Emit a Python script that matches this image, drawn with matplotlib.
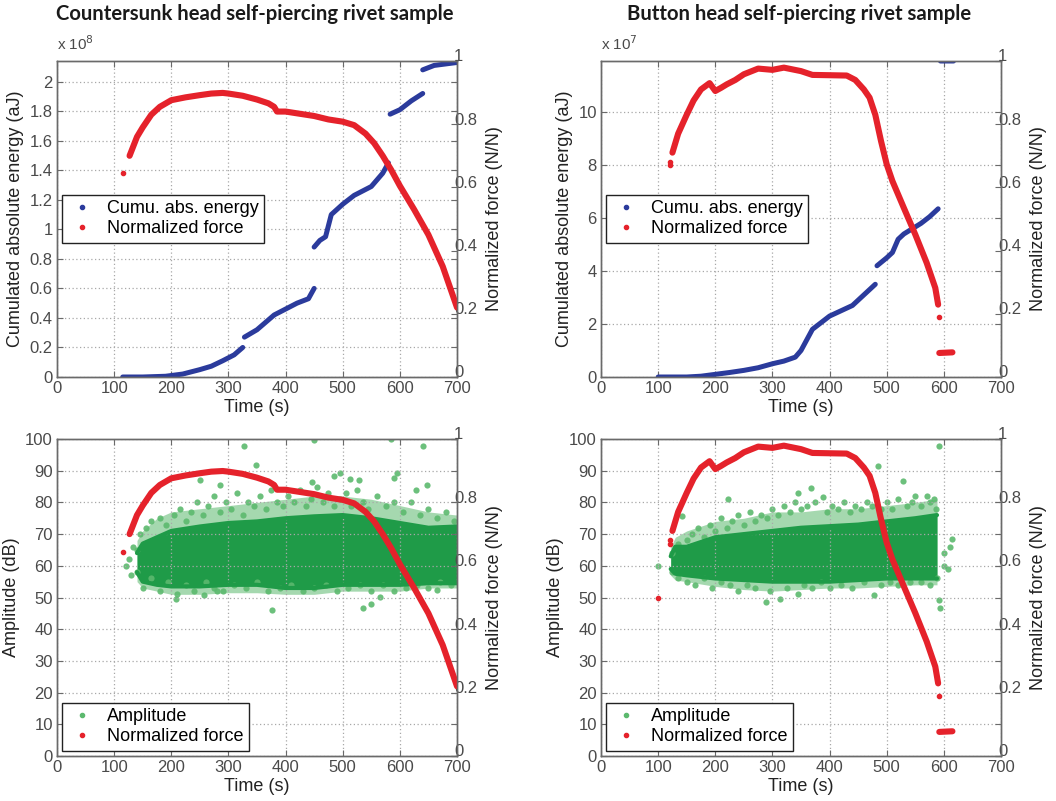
import numpy as np
import matplotlib
matplotlib.use("Agg")
import matplotlib.pyplot as plt
from matplotlib.lines import Line2D
from matplotlib.ticker import FuncFormatter
from matplotlib.transforms import ScaledTranslation

plt.rcParams.update({'font.family': ['Liberation Sans', 'DejaVu Sans']})

nan = np.nan

# ---------------- countersunk head sample ----------------
cs_energy_t = [115, 150, 190, 220, 250, 270, 290, 310, 325, nan, 328, 350, 380, 400, 420, 440, 450,
               nan, 450, 460, 470, 480, 500, 520, 550, 570, 580, nan, 583, 600, 620, 640,
               nan, 640, 660, 700]
cs_energy = [0, 0, 0.005, 0.02, 0.05, 0.073, 0.11, 0.15, 0.2, nan, 0.27, 0.32, 0.42, 0.46, 0.5, 0.53, 0.6,
             nan, 0.88, 0.925, 0.95, 1.1, 1.17, 1.23, 1.29, 1.38, 1.45, nan, 1.78, 1.81, 1.87, 1.92,
             nan, 2.08, 2.11, 2.13]  # x 1e8 aJ

cs_force_t = [127, 140, 150, 165, 180, 200, 225, 250, 270, 290, 300, 325, 350, 370, 380, 385, 400,
              425, 450, 475, 500, 520, 540, 555, 570, 585, 600, 625, 650, 675, 700]
cs_force = [0.70, 0.76, 0.79, 0.83, 0.855, 0.876, 0.885, 0.892, 0.897, 0.899, 0.897, 0.89, 0.878,
            0.866, 0.855, 0.840, 0.840, 0.833, 0.826, 0.815, 0.808, 0.797, 0.77, 0.74, 0.70, 0.655,
            0.605, 0.53, 0.45, 0.35, 0.22]
cs_force_pts_t = [115]
cs_force_pts = [0.645]

# amplitude cloud: dense core envelope, looser outer envelope, and single dots
cs_band_t = [140, 150, 175, 200, 250, 300, 350, 400, 450, 500, 550, 600, 650, 700]
cs_band_lo = [58, 55, 54, 53.5, 53.5, 54, 54, 53, 53, 54, 54, 54, 54.5, 54.5]
cs_band_hi = [64, 67, 69, 71, 72.4, 73.5, 74, 75, 75.6, 76, 75, 73.5, 72, 72.4]
cs_outer_lo = [55, 53, 52, 51, 51, 51.5, 51.5, 51, 51, 52, 52, 52, 53, 53]
cs_outer_hi = [68, 71, 75, 77, 78, 79, 80, 81, 82, 82, 81, 79, 77, 76]
cs_amp_t = [140, 145, 155, 165, 180, 190, 205, 215, 225, 235, 245, 255, 265, 275, 285, 295, 305, 315,
            325, 335, 345, 355, 365, 375, 385, 395, 405, 415, 425, 435, 445, 455, 465, 475, 485, 495,
            505, 515, 525, 535, 545, 560, 575, 590, 605, 620, 635, 650, 665, 680, 695,
            140, 150, 165, 180, 195, 210, 225, 240, 260, 275, 290, 310, 330, 350, 370, 390, 410, 430,
            450, 470, 490, 510, 530, 550, 570, 590, 610, 630, 650, 670, 690,
            327, 348, 640, 449, 584, 376, 535, 550, 257, 208, 280, 484, 496, 528, 589, 595, 513, 250,
            285, 446, 628, 648, 130, 126, 665, 566, 120, 133]
cs_amp = [65, 70, 72, 74, 75, 73, 76, 78, 74, 77, 80, 76, 79, 82, 77, 80, 78, 83,
          76, 80, 79, 82, 78, 84, 80, 79, 82, 80, 84, 79, 81, 85, 80, 83, 79, 81,
          83, 79, 84, 80, 78, 82, 79, 80, 77, 80, 76, 78, 75, 77, 74,
          58, 53, 56, 52, 55, 51, 54, 52, 55, 53, 52, 54, 53, 55, 52, 53, 54, 52,
          53, 54, 52, 53, 54, 52, 54, 52, 53, 54, 53, 55, 54,
          97.9, 91.7, 97.9, 99.8, 100, 45.9, 46.6, 48, 50.8, 49.6, 52, 88.2, 89.3, 87.2, 87.7, 89.3,
          87.4, 87, 85.5, 86.3, 84, 85.6, 57, 62, 52.4, 50.3, 60, 66]

# ---------------- button head sample ----------------
bh_energy_t = [100, 130, 150, 175, 200, 225, 250, 275, 300, 320, 340, 350, 360, 370, 385, 400, 420,
               440, 460, 470, 480, nan, 483, 500, 510, 520, 530, 545, 560, 575, 590, nan, 594, 617]
bh_energy = [0, 0, 0, 0.03, 0.1, 0.17, 0.25, 0.35, 0.5, 0.6, 0.75, 1.0, 1.4, 1.8, 2.05, 2.3, 2.5,
             2.7, 3.1, 3.3, 3.5, nan, 4.2, 4.5, 4.7, 5.2, 5.4, 5.6, 5.8, 6.05, 6.35, nan, 11.93, 11.93]  # x 1e7 aJ

bh_force_t = [125, 135, 150, 162, 175, 190, 200, 210, 220, 235, 250, 275, 300, 320, 350, 370, 400,
              430, 445, 460, 470, 480, 490, 500, 510, 530, 550, 570, 585, 590]
bh_force = [0.71, 0.77, 0.83, 0.875, 0.91, 0.93, 0.905, 0.915, 0.926, 0.94, 0.958, 0.976, 0.972,
            0.979, 0.968, 0.956, 0.955, 0.954, 0.94, 0.91, 0.884, 0.83, 0.747, 0.673, 0.62, 0.535,
            0.451, 0.361, 0.282, 0.229]
bh_force_pts_t = [100, 120, 120, 591]
bh_force_pts = [0.5, 0.68, 0.67, 0.19]
bh_force_tail_t = [592, 615]
bh_force_tail = [0.076, 0.078]

bh_band_t = [122, 130, 150, 200, 250, 300, 350, 400, 450, 500, 550, 588]
bh_band_lo = [59, 57.5, 57, 56, 55.5, 55, 55, 55, 55.5, 56, 56, 56]
bh_band_hi = [63, 66, 66, 69, 70, 71, 72, 72.5, 73, 74, 75, 76]
bh_outer_lo = [57, 55.5, 55, 53.5, 52.5, 52, 52.5, 53, 53, 53.5, 54, 54]
bh_outer_hi = [66, 69, 71, 74, 75, 77, 77, 78, 78, 79, 80, 81]
bh_amp_t = [125, 135, 141, 150, 160, 170, 180, 190, 200, 210, 220, 223, 230, 240, 250, 260, 270, 280,
            290, 300, 310, 320, 330, 340, 345, 350, 360, 368, 375, 389, 395, 405, 415, 425, 435, 445,
            455, 465, 475, 484, 490, 500, 510, 520, 529, 535, 545, 550, 560, 570, 575, 582, 586, 592,
            125, 135, 150, 165, 180, 195, 210, 225, 240, 255, 270, 288, 295, 313, 325, 344, 355, 370,
            385, 400, 420, 440, 460, 478, 490, 505, 520, 540, 560, 575, 588, 592, 593,
            600, 607, 611, 614, 600, 100]
bh_amp = [64, 67, 75.6, 68, 70, 72, 69, 73, 71, 75, 72, 81, 74, 76, 73, 77, 74, 76,
          75, 78, 76, 79, 77, 80, 83, 78, 79, 84.5, 80, 81.7, 77, 79, 78, 80, 77, 79,
          78, 80, 79, 91.6, 78, 80, 78, 81, 86.6, 79, 80, 82, 79, 82, 80, 81, 78, 97.9,
          58, 56, 55, 54, 56, 53, 55, 54, 52, 54, 53, 48.7, 52, 49.6, 53, 51, 54, 53,
          55, 53, 54, 53, 55, 50.8, 54, 55, 54, 55, 55, 54, 56, 49.3, 46.6,
          60, 59, 66, 68.5, 64, 60]

titles = ["Countersunk head self-piercing rivet sample", "Button head self-piercing rivet sample"]

red = '#e5222b'
blue = '#2b3b9c'
green = '#1f9b48'
lgreen = '#5cb96e'
spine_c = '#6a6a6a'
tick_c = '#4a4a4a'

W, H = 1056, 801
fig = plt.figure(figsize=(W / 100, H / 100), dpi=100)


def make_axes(px_left, px_top, px_bottom):
    return fig.add_axes([px_left / W, 1 - px_bottom / H, 400 / W, (px_bottom - px_top) / H])


def style(ax, ax2, ylim, yticks):
    ax.set_xlim(0, 700)
    ax.set_xticks(range(0, 701, 100))
    ax.set_ylim(*ylim)
    ax.set_yticks(yticks)
    ax2.set_ylim(0, 1)
    ax2.set_yticks([0, 0.2, 0.4, 0.6, 0.8, 1])
    ax2.yaxis.set_major_formatter(FuncFormatter(lambda v, p: '%g' % v))
    ax.grid(True, linestyle=(0, (1, 2)), color='#a8a8a8', linewidth=0.9)
    ax.tick_params(direction='in', length=4, colors=spine_c, labelcolor=tick_c, labelsize=12,
                   top=True, right=True, pad=3)
    ax2.tick_params(direction='in', length=4, colors=spine_c, labelcolor=tick_c, labelsize=12, pad=-2)
    # right-hand labels sit slightly above their ticks, as in MATLAB output
    up = ScaledTranslation(0, 4 / 72, fig.dpi_scale_trans)
    for lab in ax2.get_yticklabels():
        lab.set_transform(lab.get_transform() + up)
    for a in (ax, ax2):
        for s in a.spines.values():
            s.set_color(spine_c)
            s.set_linewidth(1.0)
    ax.set_xlabel('Time (s)', fontsize=13, color='#222222', labelpad=2)
    ax2.set_ylabel('Normalized force (N/N)', fontsize=13, color='#222222', labelpad=6)


def legend(ax2, c1, label1, top):
    h = [Line2D([], [], ls='none', marker='.', ms=6, color=c1),
         Line2D([], [], ls='none', marker='.', ms=6, color=red)]
    lg = ax2.legend(h, [label1, 'Normalized force'], loc='upper left', bbox_to_anchor=(0.012, top),
                    fontsize=13, frameon=True, fancybox=False, framealpha=1, edgecolor='#222222',
                    handlelength=1.6, labelspacing=0.15, borderpad=0.3, handletextpad=0.6,
                    borderaxespad=0)
    lg.get_frame().set_linewidth(1.0)


# ---- top row: cumulated energy ----
energy_sets = [(cs_energy_t, cs_energy, 1e8, 2.14, np.arange(0, 2.01, 0.2), 'x 10$^{8}$'),
               (bh_energy_t, bh_energy, 1e7, 11.93, np.arange(0, 10.1, 2), 'x 10$^{7}$')]
force_sets = [(cs_force_t, cs_force, cs_force_pts_t, cs_force_pts, None, None),
              (bh_force_t, bh_force, bh_force_pts_t, bh_force_pts, bh_force_tail_t, bh_force_tail)]
lefts = [57, 601]

for i in range(2):
    et, ev, scale, ymax, yt, off = energy_sets[i]
    ft, fv, pt, pv, tt, tv = force_sets[i]
    ax = make_axes(lefts[i], 61, 377)
    ax2 = ax.twinx()
    ax.plot(et, np.array(ev) * scale, color=blue, lw=3.6, solid_capstyle='round')
    ax2.plot(ft, fv, color=red, lw=4.4, solid_capstyle='round')
    ax2.plot(pt, pv, ls='none', marker='.', ms=6, color=red)
    if tt is not None:
        ax2.plot(tt, tv, color=red, lw=4.4, solid_capstyle='round')
    style(ax, ax2, (0, ymax * scale), yt * scale)
    ax.yaxis.set_major_formatter(FuncFormatter(lambda v, p, s=scale: '%g' % round(v / s, 6)))
    ax.set_ylabel('Cumulated absolute energy (aJ)', fontsize=13, color='#222222', labelpad=4)
    ax.text(0.0, 1.025, off, transform=ax.transAxes, fontsize=11, color=tick_c, ha='left', va='bottom')
    legend(ax2, blue, 'Cumu. abs. energy', 0.576)
    fig.text((lefts[i] + 198) / W, 1 - 14 / H, titles[i], ha='center', va='center',
             fontsize=14.6, fontweight='bold', family=['Lato', 'DejaVu Sans'], color='#1a1a1a')

# ---- bottom row: amplitude ----
amp_sets = [(cs_band_t, cs_band_lo, cs_band_hi, cs_outer_lo, cs_outer_hi, cs_amp_t, cs_amp),
            (bh_band_t, bh_band_lo, bh_band_hi, bh_outer_lo, bh_outer_hi, bh_amp_t, bh_amp)]
for i in range(2):
    bt, blo, bhi, olo, ohi, at, av = amp_sets[i]
    ft, fv, pt, pv, tt, tv = force_sets[i]
    ax = make_axes(lefts[i], 439, 756)
    ax2 = ax.twinx()
    ax.fill_between(bt, olo, ohi, color=lgreen, alpha=0.55, lw=0)
    ax.fill_between(bt, blo, bhi, color=green, lw=0)
    ax.plot(bt, blo, color=green, lw=3, solid_capstyle='round')
    ax.plot(bt, bhi, color=green, lw=3, solid_capstyle='round')
    ax.scatter(at, av, s=20, color=lgreen, alpha=0.9, lw=0)
    ax2.plot(ft, fv, color=red, lw=4.4, solid_capstyle='round')
    ax2.plot(pt, pv, ls='none', marker='.', ms=6, color=red)
    if tt is not None:
        ax2.plot(tt, tv, color=red, lw=4.4, solid_capstyle='round')
    style(ax, ax2, (0, 100), range(0, 101, 10))
    ax.set_ylabel('Amplitude (dB)', fontsize=13, color='#222222', labelpad=4)
    legend(ax2, lgreen, 'Amplitude', 0.167)

fig.savefig('out.png', dpi=100)
